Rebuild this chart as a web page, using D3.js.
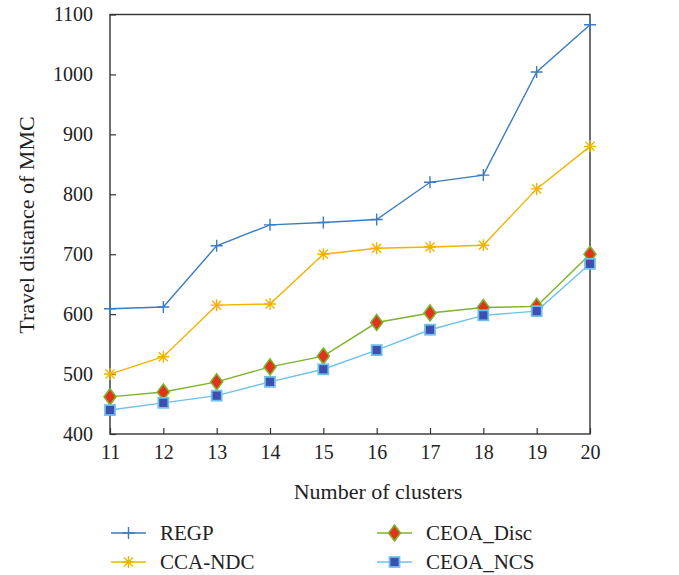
<!DOCTYPE html>
<html>
<head>
<meta charset="utf-8">
<script src="https://cdn.jsdelivr.net/npm/d3@7"></script>
<style>
  html, body { margin: 0; padding: 0; background: #fff; }
  svg { display: block; }
  text { font-family: "Liberation Serif", "DejaVu Serif", serif; fill: #222; }
</style>
</head>
<body>
<svg id="chart" width="679" height="575"></svg>
<script>
const clusters = [11, 12, 13, 14, 15, 16, 17, 18, 19, 20];
const regp     = [609, 612, 714, 749, 753, 758, 820, 832, 1004, 1083];
const ccaNdc   = [500, 529, 615, 617, 700, 710, 712, 715, 809, 880];
const ceoaDisc = [462, 470, 487, 512, 530, 586, 602, 611, 613, 700];
const ceoaNcs  = [440, 452, 464, 487, 508, 540, 574, 598, 605, 684];
const yTicks = [400, 500, 600, 700, 800, 900, 1000, 1100];
const seriesNames = ["REGP", "CCA-NDC", "CEOA_Disc", "CEOA_NCS"];

const svg = d3.select("#chart");
const L = 110, R = 590, T = 14.5, B = 434;
const x = d3.scaleLinear().domain([11, 20]).range([L, R]);
const y = d3.scaleLinear().domain([400, 1100]).range([B, T]);

// frame
svg.append("rect").attr("x", L).attr("y", T).attr("width", R - L).attr("height", B - T)
  .attr("fill", "none").attr("stroke", "#333").attr("stroke-width", 1.4);

// y axis
const yAxis = svg.append("g").attr("transform", `translate(${L},0)`)
  .call(d3.axisLeft(y).tickValues(yTicks).tickSizeInner(-6).tickSizeOuter(0).tickPadding(17).tickFormat(d3.format("d")));
yAxis.select(".domain").remove();
yAxis.selectAll("line").attr("stroke", "#333").attr("stroke-width", 1.2);
yAxis.selectAll("text").attr("font-size", 20).attr("font-family", "Liberation Serif").attr("fill", "#222");

// x axis
const xAxis = svg.append("g").attr("transform", `translate(0,${B})`)
  .call(d3.axisBottom(x).tickValues(clusters).tickSizeInner(-6).tickSizeOuter(0).tickPadding(11).tickFormat(d3.format("d")));
xAxis.select(".domain").remove();
xAxis.selectAll("line").attr("stroke", "#333").attr("stroke-width", 1.2);
xAxis.selectAll("text").attr("font-size", 20).attr("font-family", "Liberation Serif").attr("fill", "#222");

// titles
svg.append("text").attr("x", 378).attr("y", 499).attr("text-anchor", "middle")
  .attr("font-size", 22).text("Number of clusters");
svg.append("text").attr("transform", "translate(34,225) rotate(-90)").attr("text-anchor", "middle")
  .attr("font-size", 22).text("Travel distance of MMC");

const line = d3.line().x((d, i) => x(clusters[i])).y(d => y(d));

const styles = [
  { data: regp, color: "#3a7cc3", marker: "plus" },
  { data: ccaNdc, color: "#f2b300", marker: "star" },
  { data: ceoaDisc, color: "#7db32a", marker: "diamond" },
  { data: ceoaNcs, color: "#6ec1ea", marker: "square" }
];

function drawMarker(g, type, color, cx, cy) {
  if (type === "plus") {
    g.append("path").attr("d", `M${cx - 6},${cy}H${cx + 6}M${cx},${cy - 6}V${cy + 6}`)
      .attr("stroke", color).attr("stroke-width", 1.4).attr("fill", "none");
  } else if (type === "star") {
    const r = 6;
    let d = `M${cx - r},${cy}H${cx + r}M${cx},${cy - r}V${cy + r}`;
    const k = r * 0.75;
    d += `M${cx - k},${cy - k}L${cx + k},${cy + k}M${cx - k},${cy + k}L${cx + k},${cy - k}`;
    g.append("path").attr("d", d).attr("stroke", color).attr("stroke-width", 1.4).attr("fill", "none");
  } else if (type === "diamond") {
    g.append("path").attr("d", `M${cx},${cy - 8}L${cx + 6},${cy}L${cx},${cy + 8}L${cx - 6},${cy}Z`)
      .attr("fill", "#e2321f").attr("stroke", color).attr("stroke-width", 1.6);
  } else if (type === "square") {
    g.append("rect").attr("x", cx - 5).attr("y", cy - 5).attr("width", 10).attr("height", 10)
      .attr("fill", "#3d4fb0").attr("stroke", color).attr("stroke-width", 1.8);
  }
}

styles.forEach(s => {
  svg.append("path").datum(s.data).attr("d", line).attr("fill", "none")
    .attr("stroke", s.color).attr("stroke-width", 1.4);
  const g = svg.append("g");
  s.data.forEach((v, i) => drawMarker(g, s.marker, s.color, x(clusters[i]), y(v)));
});

// legend
const legendPos = [
  { lx: 111, ly: 533 }, { lx: 111, ly: 562 }, { lx: 377, ly: 533 }, { lx: 377, ly: 562 }
];
styles.forEach((s, i) => {
  const p = legendPos[i];
  const g = svg.append("g");
  g.append("line").attr("x1", p.lx).attr("x2", p.lx + 35).attr("y1", p.ly).attr("y2", p.ly)
    .attr("stroke", s.color).attr("stroke-width", 1.4);
  drawMarker(g, s.marker, s.color, p.lx + 17.5, p.ly);
  g.append("text").attr("x", p.lx + 49).attr("y", p.ly + 7).attr("font-size", 21).text(seriesNames[i]);
});
</script>
</body>
</html>
